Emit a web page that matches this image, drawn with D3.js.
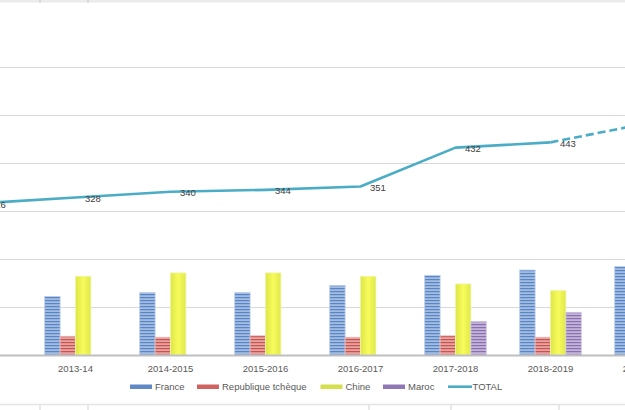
<!DOCTYPE html>
<html><head><meta charset="utf-8">
<script src="https://cdn.jsdelivr.net/npm/d3@7"></script>
<style>html,body{margin:0;padding:0;background:#fff;overflow:hidden}svg{display:block}</style>
</head><body>
<script>
// ---- data ----
const categories = ["2012-13","2013-14","2014-2015","2015-2016","2016-2017","2017-2018","2018-2019","2019-2020"];
const categoryLabels = ["","2013-14","2014-2015","2015-2016","2016-2017","2017-2018","2018-2019","2019-2020"];
const seriesNames = ["France","Republique tchèque","Chine","Maroc"];
const france   = [null,122,130,130,145,166,177,184];
const tcheque  = [null, 39, 37, 40, 37, 40, 37, null];
const chine    = [null,164,171,171,164,148,134, null];
const maroc    = [null,null,null,null,null, 70, 89, null];
const total    = [316,328,340,344,351,432,443,482];
const totalLabels = ["316","328","340","344","351","432","443",""];
const gridValues = [100,200,300,400,500,600];

const W = 625, H = 410;
const svg = d3.select("body").append("svg").attr("width", W).attr("height", H);
const defs = svg.append("defs");

function stripes(id, dark, light){
  const p = defs.append("pattern").attr("id", id).attr("patternUnits","userSpaceOnUse")
    .attr("width", 6).attr("height", 3);
  p.append("rect").attr("width",6).attr("height",3).attr("fill", light);
  p.append("rect").attr("y",0).attr("width",6).attr("height",1.2).attr("fill", dark);
}
stripes("pFr", "#5a84c2", "#a2bde3");
stripes("pCz", "#c85450", "#e6a3a1");
stripes("pMa", "#8a70ae", "#c2b4d8");
const g1 = defs.append("linearGradient").attr("id","gCh").attr("x1","0%").attr("x2","100%").attr("y1","0%").attr("y2","0%");
g1.append("stop").attr("offset","0%").attr("stop-color","#dde646");
g1.append("stop").attr("offset","50%").attr("stop-color","#f8fb5c");
g1.append("stop").attr("offset","100%").attr("stop-color","#dfe84a");

const fills = ["url(#pFr)","url(#pCz)","url(#gCh)","url(#pMa)"];
const strokes = ["#b9cdea","#eab9b8","#eef5a8","#d2c8e3"];
const legendFills = ["#5f8ac6","#d0625f","#d5df4e","#8f78b3"];
const seriesData = [france, tcheque, chine, maroc];

// ---- scales ----
const step = 95, c0 = -19.5;
const x = d3.scaleBand().domain(categories)
  .range([c0 - step/2, c0 - step/2 + step*categories.length]).padding(0);
const groupW = 61.6;
const xs = d3.scaleBand().domain(seriesNames)
  .range([(step-groupW)/2, (step+groupW)/2]).padding(0);
const y = d3.scaleLinear().domain([0,700]).range([355, 355-700*0.48]);

// spreadsheet decorations
svg.append("rect").attr("x",0).attr("y",0).attr("width",W).attr("height",2.5).attr("fill","#ebebeb");
[40,88].forEach(v=>svg.append("line").attr("x1",v).attr("x2",v).attr("y1",0).attr("y2",3).attr("stroke","#c8c8c8"));
svg.append("line").attr("x1",0).attr("x2",W).attr("y1",404.5).attr("y2",404.5).attr("stroke","#e4e4e4").attr("stroke-width",1.5);
[40,88,369,451,559].forEach(v=>svg.append("line").attr("x1",v).attr("x2",v).attr("y1",405).attr("y2",410).attr("stroke","#d2d2d2"));

// gridlines
const grid = svg.append("g")
  .call(d3.axisLeft(y).tickValues(gridValues).tickSize(-W).tickFormat(""));
grid.select(".domain").remove();
grid.selectAll(".tick line").attr("stroke","#d9d9d9").attr("stroke-width",1);

// bars
categories.forEach((cat, ci) => {
  seriesNames.forEach((s, si) => {
    const v = seriesData[si][ci];
    if (v == null) return;
    svg.append("rect")
      .attr("x", x(cat) + xs(s))
      .attr("y", y(v))
      .attr("width", xs.bandwidth())
      .attr("height", y(0) - y(v))
      .attr("fill", fills[si])
      .attr("stroke", strokes[si]).attr("stroke-width", 0.8);
  });
});

// baseline / category axis
const xAxis = svg.append("g").attr("transform", `translate(0,${y(0)})`)
  .call(d3.axisBottom(x).tickSize(0).tickPadding(10)
    .tickFormat((d,i)=>categoryLabels[i]));
xAxis.select(".domain").attr("stroke","#bfbfbf").attr("stroke-width",2);
xAxis.selectAll("text").attr("font-family","Liberation Sans, Arial, sans-serif")
  .attr("font-size","9.5px").attr("fill","#595959");

// total line
const cx = c => x(c) + x.bandwidth()/2;
const pts = categories.map((c,i)=>[cx(c), y(total[i])]);
const line = d3.line();
svg.append("path").attr("d", line(pts.slice(0, 7))).attr("fill","none")
  .attr("stroke","#4bacc6").attr("stroke-width",2.6).attr("stroke-linejoin","round");
svg.append("path").attr("d", line(pts.slice(6))).attr("fill","none")
  .attr("stroke","#4bacc6").attr("stroke-width",2.6).attr("stroke-dasharray","8,4");
svg.selectAll(".lbl").data(categories.filter((c,i)=>totalLabels[i])).enter().append("text")
  .attr("x", c => cx(c) + 9.5)
  .attr("y", c => y(total[categories.indexOf(c)]) + 4.5)
  .attr("font-family","Liberation Sans, Arial, sans-serif").attr("font-size","9.5px")
  .attr("fill","#404040").text(c=>totalLabels[categories.indexOf(c)]);

// legend
const leg = svg.append("g").attr("font-family","Liberation Sans, Arial, sans-serif")
  .attr("font-size","9.5px").attr("fill","#595959");
const legX = [130, 197, 320.5, 383];
seriesNames.forEach((s,i)=>{
  leg.append("rect").attr("x",legX[i]).attr("y",384.5).attr("width",22).attr("height",4.5)
    .attr("fill",legendFills[i]);
  leg.append("text").attr("x",legX[i]+25).attr("y",390).text(s);
});
leg.append("line").attr("x1",448).attr("x2",472).attr("y1",386.7).attr("y2",386.7)
  .attr("stroke","#4bacc6").attr("stroke-width",2.6);
leg.append("text").attr("x",472.5).attr("y",390).text("TOTAL");
</script>
</body></html>
